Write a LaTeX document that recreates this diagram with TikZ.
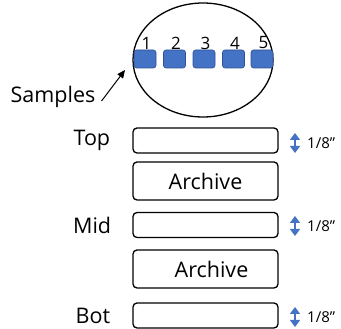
\documentclass[tikz,border=0pt]{standalone}
\usepackage{fontspec}
\setmainfont{Open Sans}
\usepackage{xcolor}
\usetikzlibrary{arrows.meta,positioning,calc,shapes.geometric}

\definecolor{sampleblue}{HTML}{4472C4}
\definecolor{sampleedge}{HTML}{2F528F}

\begin{document}
\begin{tikzpicture}[x=1pt, y=1pt,
        every node/.style={font=\fontsize{21.5}{24}\selectfont},
        layer/.style={draw, rounded corners=4pt, line width=1.3pt,
              minimum width=145pt, minimum height=25pt, inner sep=0pt},
        archive/.style={layer, minimum height=38pt},
        sample/.style={draw=sampleedge, fill=sampleblue, rounded corners=2.5pt,
              line width=0.6pt, minimum width=22pt, minimum height=18pt, inner sep=0pt},
        marktext/.style={font=\fontsize{15}{17}\selectfont, anchor=west, inner sep=0pt},
    ]
        \useasboundingbox (0,0) rectangle (341,329);

        % Sample disc
        \node[draw, ellipse, line width=1.3pt, minimum width=140pt,
              minimum height=114pt, inner sep=0pt] (disc) at (203,269) {};
        \foreach \i/\x in {1/145, 2/174.5, 3/204, 4/233.5, 5/262} {
            \node[sample] (s\i) at (\x,270) {};
            \node[font=\fontsize{17}{19}\selectfont, inner sep=0pt] (n\i)
                at (\x+1.5,286) {\i};
        }

        % Samples label
        \node[inner sep=0pt] (samples) at (53,232) {Samples};
        \coordinate (tip) at (125,259);
        \draw[-{Triangle[length=8pt,width=7pt]}, line width=1pt]
            ([xshift=6pt,yshift=-4pt]samples.east) -- (tip);

        % Layers
        \node[layer] (top) at (205.5,188.5) {};
        \node[archive] (arch1) at (205.5,148) {Archive};
        \node[layer] (mid) at (205.5,104) {};
        \node[archive] (arch2) at (205.5,60) {\hspace*{12pt}Archive};
        \node[layer] (bot) at (205.5,13.5) {};

        \node[left=22pt of top, inner sep=0pt] (toplbl) {Top};
        \node[left=21pt of mid, inner sep=0pt] (midlbl) {Mid};
        \node[left=22pt of bot, inner sep=0pt] (botlbl) {Bot};

        % Thickness marks
        \foreach \l/\y in {top/186, mid/103, bot/12} {
            \draw[{Triangle[length=7pt,width=10pt]}-{Triangle[length=7pt,width=10pt]},
                  line width=1.4pt, sampleblue] (295,\y+10) -- (295,\y-10);
            \node[marktext] (\l t) at (307,\y) {1/8”};
        }
\end{tikzpicture}
\end{document}
